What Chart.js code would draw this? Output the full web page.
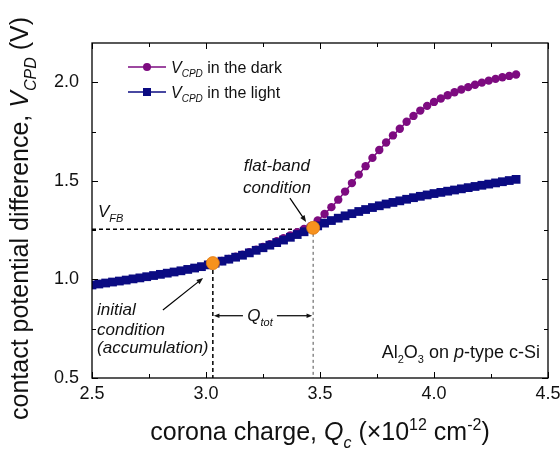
<!DOCTYPE html>
<html>
<head>
<meta charset="utf-8">
<title>Contact potential difference vs corona charge</title>
<script src="https://cdn.jsdelivr.net/npm/chart.js@4.4.1/dist/chart.umd.min.js"></script>
<style>
  html, body { margin: 0; padding: 0; background: #fff; }
  #wrap { width: 560px; height: 450px; }
</style>
</head>
<body>
<div id="wrap"><canvas id="cpdChart" width="560" height="450"></canvas></div>
<script>
// ---------- Data ----------
// corona charge Qc (x10^12 cm^-2)
const chargeQc = [
  2.50, 2.53, 2.56, 2.59, 2.62, 2.65, 2.68, 2.71, 2.74, 2.77,
  2.80, 2.83, 2.86, 2.89, 2.92, 2.95, 2.98, 3.01, 3.04, 3.07,
  3.10, 3.13, 3.16, 3.19, 3.22, 3.25, 3.28, 3.31, 3.34, 3.37,
  3.40, 3.43, 3.46, 3.49, 3.52, 3.55, 3.58, 3.61, 3.64, 3.67,
  3.70, 3.73, 3.76, 3.79, 3.82, 3.85, 3.88, 3.91, 3.94, 3.97,
  4.00, 4.03, 4.06, 4.09, 4.12, 4.15, 4.18, 4.21, 4.24, 4.27,
  4.30, 4.33, 4.36,
];

// V_CPD under illumination (V)
const vcpdLight = [
  0.972, 0.977, 0.982, 0.987, 0.992, 0.997, 1.003, 1.008, 1.014, 1.020,
  1.026, 1.032, 1.038, 1.044, 1.051, 1.058, 1.065, 1.074, 1.083, 1.093,
  1.103, 1.113, 1.123, 1.135, 1.148, 1.161, 1.174, 1.187, 1.200, 1.214,
  1.228, 1.242, 1.257, 1.272, 1.286, 1.299, 1.311, 1.323, 1.334, 1.345,
  1.355, 1.365, 1.374, 1.383, 1.391, 1.399, 1.407, 1.415, 1.422, 1.429,
  1.436, 1.442, 1.448, 1.454, 1.460, 1.466, 1.472, 1.478, 1.484, 1.490,
  1.496, 1.502, 1.508,
];

// V_CPD in the dark (V), recorded from Qc = 3.01 on
const vcpdDark = [
  null, null, null, null, null, null, null, null, null, null,
  null, null, null, null, null, null, null, 1.075, 1.084, 1.094,
  1.104, 1.115, 1.126, 1.138, 1.151, 1.165, 1.179, 1.194, 1.209, 1.224,
  1.240, 1.256, 1.272, 1.300, 1.332, 1.367, 1.405, 1.446, 1.489, 1.532,
  1.575, 1.617, 1.657, 1.695, 1.731, 1.765, 1.800, 1.830, 1.857, 1.881,
  1.901, 1.918, 1.935, 1.950, 1.964, 1.976, 1.988, 1.999, 2.009, 2.018,
  2.026, 2.033, 2.040,
];

// initial condition and flat-band condition
const markerQc = [3.03, 3.47];
const markerV  = [1.083, 1.262];
const vFlatBand = 1.255;

const xTickValues = [2.5, 3.0, 3.5, 4.0, 4.5];
const xMinorTicks = [2.75, 3.25, 3.75, 4.25];
const yTickValues = [0.5, 1.0, 1.5, 2.0];
const yMinorTicks = [0.75, 1.25, 1.75];

// ---------- Styles ----------
const FONT        = '"Liberation Sans", Arial, sans-serif';
const DARK_COLOR  = '#7d0b80';
const LIGHT_COLOR = '#0b0b82';
const MARK_COLOR  = '#f7921e';

// ---------- Helpers ----------
const toPoints = (xs, ys) =>
  xs.map((x, i) => ({ x, y: ys[i] })).filter(p => p.y !== null);

function line(ctx, x1, y1, x2, y2) {
  ctx.beginPath();
  ctx.moveTo(x1, y1);
  ctx.lineTo(x2, y2);
  ctx.stroke();
}

function arrow(ctx, x1, y1, x2, y2, head = 7) {
  const ang = Math.atan2(y2 - y1, x2 - x1);
  line(ctx, x1, y1, x2 - Math.cos(ang) * head * 0.7, y2 - Math.sin(ang) * head * 0.7);
  ctx.beginPath();
  ctx.moveTo(x2, y2);
  ctx.lineTo(x2 - head * Math.cos(ang - 0.38), y2 - head * Math.sin(ang - 0.38));
  ctx.lineTo(x2 - head * Math.cos(ang + 0.38), y2 - head * Math.sin(ang + 0.38));
  ctx.closePath();
  ctx.fill();
}

// parts: [text, style]; style may hold 'i' (italic), 'sub' or 'sup'
function drawRich(ctx, parts, x, y, size, align = 'left') {
  const items = parts.map(([t, s = '']) => {
    const sub = s.includes('sub');
    const sup = s.includes('sup');
    const fs = (sub || sup) ? Math.round(size * 0.62) : size;
    const font = (s.includes('i') ? 'italic ' : '') + fs + 'px ' + FONT;
    ctx.font = font;
    const dy = sub ? size * 0.3 : sup ? -size * 0.4 : 0;
    return { t, font, dy, w: ctx.measureText(t).width };
  });
  const total = items.reduce((sum, it) => sum + it.w, 0);
  let cx = align === 'center' ? x - total / 2 : align === 'right' ? x - total : x;
  ctx.textAlign = 'left';
  ctx.textBaseline = 'alphabetic';
  items.forEach(it => {
    ctx.font = it.font;
    ctx.fillText(it.t, cx, y + it.dy);
    cx += it.w;
  });
}

// ---------- Decorations: frame, ticks, guides, notes, legend, titles ----------
const decorations = {
  id: 'decorations',

  beforeDatasetsDraw(chart) {
    const { ctx, chartArea: a, scales: { x, y } } = chart;
    const xi = x.getPixelForValue(markerQc[0]);
    const xf = x.getPixelForValue(markerQc[1]);
    ctx.save();
    ctx.strokeStyle = '#000';
    ctx.lineWidth = 1.5;
    ctx.setLineDash([4, 3]);
    line(ctx, a.left, y.getPixelForValue(vFlatBand), xf, y.getPixelForValue(vFlatBand));
    line(ctx, xi, y.getPixelForValue(markerV[0]), xi, a.bottom);
    ctx.strokeStyle = '#6f6f6f';
    ctx.lineWidth = 1.2;
    ctx.setLineDash([3, 3]);
    line(ctx, xf, y.getPixelForValue(markerV[1]), xf, a.bottom);
    ctx.restore();
  },

  afterDatasetsDraw(chart) {
    const { ctx, chartArea: a, scales: { x, y } } = chart;
    const X = v => x.getPixelForValue(v);
    const Y = v => y.getPixelForValue(v);
    const crisp = v => Math.round(v) + 0.5;

    ctx.save();
    ctx.fillStyle = '#000';
    ctx.strokeStyle = '#000';

    // frame
    ctx.lineWidth = 1.3;
    ctx.strokeRect(a.left, a.top, a.right - a.left, a.bottom - a.top);

    // ticks, all pointing inward
    ctx.lineWidth = 1;
    const xTick = (v, len) => {
      const px = crisp(X(v));
      line(ctx, px, a.bottom, px, a.bottom - len);
      line(ctx, px, a.top, px, a.top + len);
    };
    const yTick = (v, len) => {
      const py = crisp(Y(v));
      line(ctx, a.left, py, a.left + len, py);
      line(ctx, a.right, py, a.right - len, py);
    };
    xTickValues.forEach(v => xTick(v, 6));
    xMinorTicks.forEach(v => xTick(v, 4));
    yTickValues.forEach(v => yTick(v, 6));
    yMinorTicks.forEach(v => yTick(v, 4));

    // flat-band note
    ctx.fillStyle = '#111';
    drawRich(ctx, [['flat-band', 'i']], X(3.311), Y(1.550), 17, 'center');
    drawRich(ctx, [['condition', 'i']], X(3.311), Y(1.439), 17, 'center');
    ctx.lineWidth = 1.2;
    arrow(ctx, X(3.368), Y(1.413), X(3.439), Y(1.292));

    // V_FB level label
    drawRich(ctx, [['V', 'i'], ['FB', 'isub']], X(2.526), Y(1.317), 17);

    // initial condition note
    drawRich(ctx, [['initial', 'i']], X(2.522), Y(0.820), 17);
    drawRich(ctx, [['condition', 'i']], X(2.522), Y(0.718), 17);
    drawRich(ctx, [['(accumulation)', 'i']], X(2.522), Y(0.627), 17);
    arrow(ctx, X(2.811), Y(0.845), X(2.987), Y(1.007));

    // Q_tot span between the two conditions
    const yq = Y(0.816);
    arrow(ctx, X(3.162), yq, X(markerQc[0]) + 1, yq, 6);
    arrow(ctx, X(3.311), yq, X(markerQc[1]) - 1, yq, 6);
    drawRich(ctx, [['Q', 'i'], ['tot', 'isub']], X(3.237), Y(0.789), 17, 'center');

    // sample label
    drawRich(ctx, [['Al'], ['2', 'sub'], ['O'], ['3', 'sub'], [' on '], ['p', 'i'], ['-type c-Si']],
      X(4.465), Y(0.601), 18, 'right');

    // legend
    const legendRows = [
      { color: DARK_COLOR,  shape: 'circle', label: ' in the dark',  y: a.top + 24 },
      { color: LIGHT_COLOR, shape: 'rect',   label: ' in the light', y: a.top + 49 },
    ];
    legendRows.forEach(r => {
      const x0 = a.left + 36;
      ctx.strokeStyle = r.color;
      ctx.fillStyle = r.color;
      ctx.lineWidth = 1.5;
      line(ctx, x0, r.y, x0 + 38, r.y);
      ctx.beginPath();
      if (r.shape === 'circle') ctx.arc(x0 + 19, r.y, 4, 0, Math.PI * 2);
      else ctx.rect(x0 + 15, r.y - 4, 8, 8);
      ctx.fill();
      ctx.fillStyle = '#111';
      drawRich(ctx, [['V', 'i'], ['CPD', 'isub'], [r.label]], x0 + 43, r.y + 5.5, 16);
    });

    // axis titles
    ctx.fillStyle = '#111';
    drawRich(ctx,
      [['corona charge, '], ['Q', 'i'], ['c', 'isub'], [' (\u00d710'], ['12', 'sup'], [' cm'], ['-2', 'sup'], [')']],
      (a.left + a.right) / 2, a.bottom + 62, 25, 'center');

    ctx.save();
    ctx.translate(28, (a.top + a.bottom) / 2 + 8);
    ctx.rotate(-Math.PI / 2);
    drawRich(ctx,
      [['contact potential difference, '], ['V', 'i'], ['CPD', 'isub'], [' (V)']],
      0, 0, 25, 'center');
    ctx.restore();

    ctx.restore();
  },
};

// ---------- Chart ----------
const ctx = document.getElementById('cpdChart').getContext('2d');

new Chart(ctx, {
  type: 'line',
  data: {
    datasets: [
      {
        label: 'markers',
        data: toPoints(markerQc, markerV),
        showLine: false,
        pointStyle: 'circle',
        pointRadius: 6.5,
        pointBackgroundColor: MARK_COLOR,
        pointBorderColor: '#e07a10',
        pointBorderWidth: 0.8,
        order: 0,
      },
      {
        label: 'VCPD in the light',
        data: toPoints(chargeQc, vcpdLight),
        borderColor: LIGHT_COLOR,
        borderWidth: 1.5,
        pointStyle: 'rect',
        pointRadius: 6.2,
        pointBackgroundColor: LIGHT_COLOR,
        pointBorderWidth: 0,
        clip: 0,
        order: 1,
      },
      {
        label: 'VCPD in the dark',
        data: toPoints(chargeQc, vcpdDark),
        borderColor: DARK_COLOR,
        borderWidth: 1.5,
        pointStyle: 'circle',
        pointRadius: 4.2,
        pointBackgroundColor: DARK_COLOR,
        pointBorderWidth: 0,
        clip: 0,
        order: 2,
      },
    ],
  },
  options: {
    responsive: false,
    animation: false,
    devicePixelRatio: 1,
    layout: { padding: { top: 43, right: 12, left: 0, bottom: 0 } },
    plugins: {
      legend: { display: false },
      tooltip: { enabled: false },
      title: { display: false },
    },
    elements: { line: { tension: 0 } },
    scales: {
      x: {
        type: 'linear',
        min: 2.5,
        max: 4.5,
        border: { display: false },
        grid: { display: false, drawTicks: false },
        ticks: {
          padding: 5,
          color: '#111',
          font: { family: FONT, size: 18 },
          callback: v => v.toFixed(1),
        },
        afterBuildTicks: s => { s.ticks = xTickValues.map(value => ({ value })); },
        afterFit: s => { s.height = 72; s.paddingLeft = 0; s.paddingRight = 0; },
      },
      y: {
        min: 0.5,
        max: 2.2,
        border: { display: false },
        grid: { display: false, drawTicks: false },
        ticks: {
          padding: 13,
          color: '#111',
          font: { family: FONT, size: 18 },
          callback: v => v.toFixed(1),
        },
        afterBuildTicks: s => { s.ticks = yTickValues.map(value => ({ value })); },
        afterFit: s => { s.width = 92; s.paddingTop = 0; s.paddingBottom = 0; },
      },
    },
  },
  plugins: [decorations],
});
</script>
</body>
</html>
